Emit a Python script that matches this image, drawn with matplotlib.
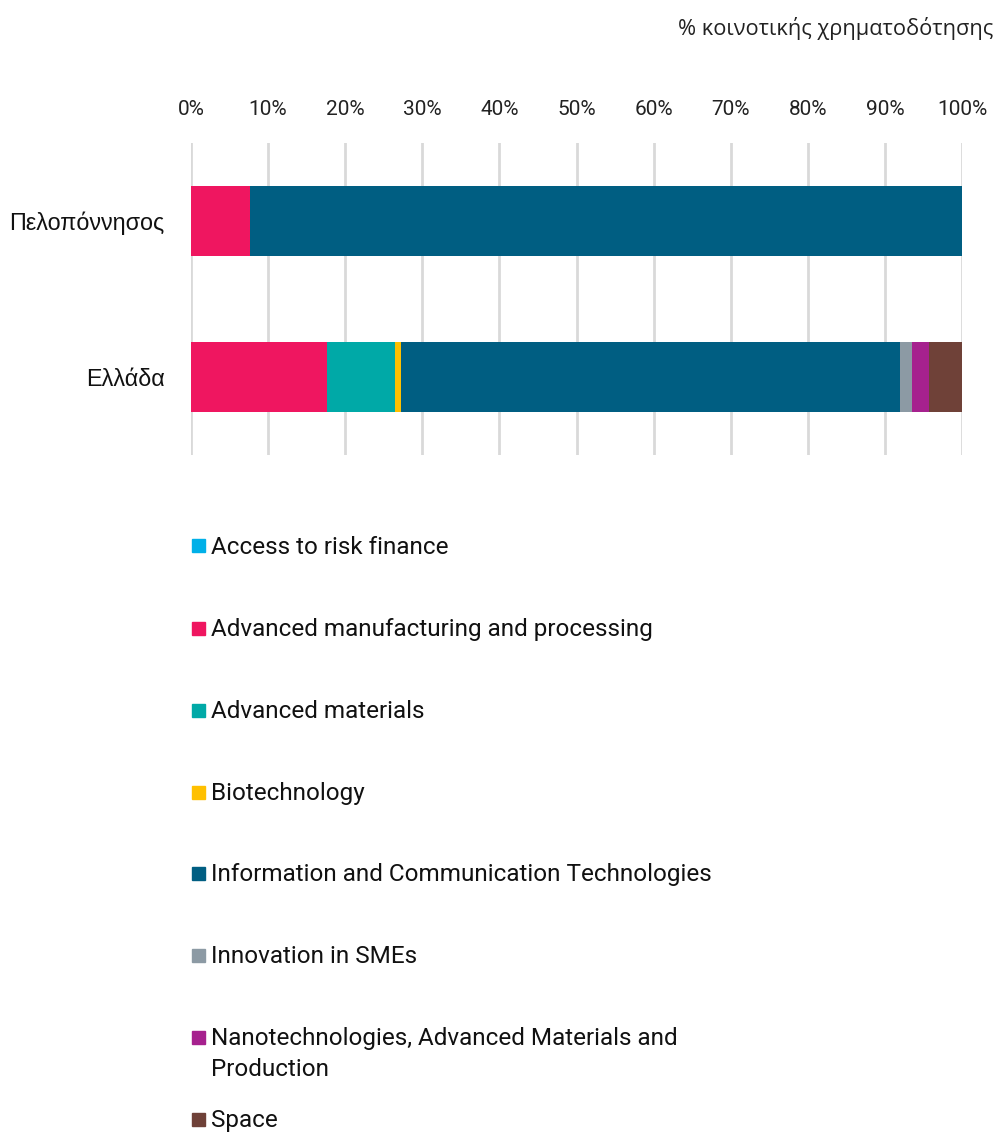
import matplotlib.pyplot as plt
from matplotlib.patches import Rectangle

regions = ["Πελοπόννησος", "Ελλάδα"]
categories = ["Access to risk finance",
              "Advanced manufacturing and processing",
              "Advanced materials",
              "Biotechnology",
              "Information and Communication Technologies",
              "Innovation in SMEs",
              "Nanotechnologies, Advanced Materials and\nProduction",
              "Space"]
colors = ["#00B0E8", "#EF1660", "#00A9A7", "#FFC000",
          "#005E82", "#8C9AA4", "#A6218E", "#6F4138"]

# % share per region (Πελοπόννησος, Ελλάδα)
access = [0.0, 0.0]
manufacturing = [7.7, 17.6]
materials = [0.0, 8.9]
biotech = [0.0, 0.7]
ict = [92.3, 64.8]
smes = [0.0, 1.5]
nano = [0.0, 2.2]
space = [0.0, 4.3]
series = [access, manufacturing, materials, biotech, ict, smes, nano, space]

fig = plt.figure(figsize=(9.97, 11.33), dpi=100)
ax = fig.add_axes([191/997, 1 - 455/1133, 771/997, 312/1133])

y = [0, 1]
left = [0.0, 0.0]
for vals, col, lab in zip(series, colors, categories):
    ax.barh(y, vals, left=left, height=0.455, color=col, label=lab, zorder=3)
    left = [a + b for a, b in zip(left, vals)]

ax.set_xlim(0, 100)
ax.set_ylim(1.5, -0.5)
ax.set_xticks(range(0, 101, 10))
ax.set_xticklabels([f"{t}%" for t in range(0, 101, 10)], family="Roboto", fontsize=15, color="#222222")
ax.xaxis.tick_top()
ax.tick_params(axis="x", length=0, pad=17)
ax.set_yticks(y)
ax.set_yticklabels(regions, family="Liberation Sans", fontsize=16.8, color="#111111")
ax.tick_params(axis="y", length=0, pad=19)
ax.grid(axis="x", color="#d9d9d9", linewidth=2, zorder=0)
for s in ax.spines.values():
    s.set_visible(False)

fig.text(993/997, 1 - 28/1133, "% κοινοτικής χρηματοδότησης", ha="right", va="center",
         family="Open Sans", fontsize=15.7, color="#222222")

# legend, one row every ~82 px
ys = [546, 628, 710, 792, 873, 955, 1037, 1119]
for yy, col, lab in zip(ys, colors, categories):
    fig.patches.append(Rectangle((192/997, 1 - (yy + 6.5)/1133), 13/997, 13/1133,
                                 transform=fig.transFigure, color=col, figure=fig))
    fig.text(211/997, 1 - (yy - 10)/1133, lab, ha="left", va="top", family="Roboto",
             fontsize=17.5, color="#111111", linespacing=1.45)

fig.savefig("out.png", dpi=100)
